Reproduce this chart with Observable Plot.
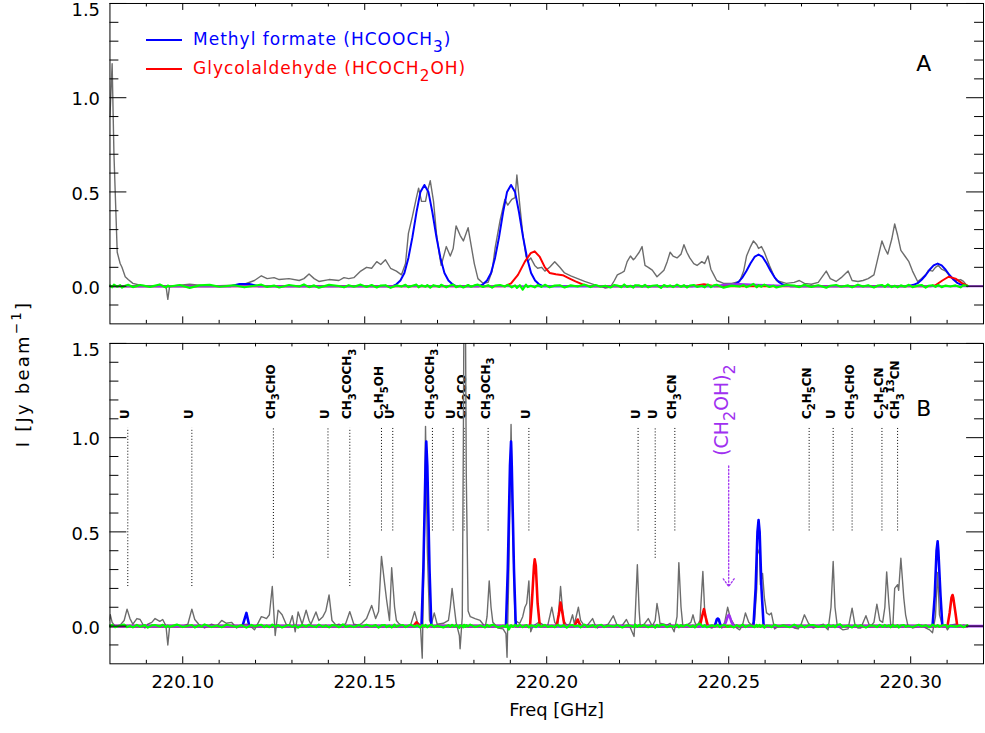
<!DOCTYPE html>
<html><head><meta charset="utf-8">
<script src="https://cdn.jsdelivr.net/npm/d3@7"></script>
<script src="https://cdn.jsdelivr.net/npm/@observablehq/plot@0.6"></script>
<style>
body{margin:0;background:#fff;overflow:hidden;}
#wrap{position:relative;width:985px;height:733px;overflow:hidden;background:#fff;font-family:"DejaVu Sans",sans-serif;}
#wrap svg{position:absolute;left:0;}
.leg-line{position:absolute;height:2px;width:36px;left:146px;}
.leg-text{position:absolute;left:193px;font-size:17px;line-height:20px;letter-spacing:1px;white-space:nowrap;}
.leg-text sub{font-size:0.9em;vertical-align:-0.45em;line-height:0;}
#ylab{position:absolute;left:22px;top:374px;transform:translate(-50%,-50%) rotate(-90deg);font-size:18px;letter-spacing:2.2px;white-space:nowrap;color:#000;}
#ylab sup{font-size:0.75em;vertical-align:0.55em;line-height:0;}
</style></head><body><div id="wrap">
<div id="ylab">I [Jy beam<sup>−1</sup>]</div>
</div>
<script>
// ---------------- axis ticks ----------------
const xMajor = [220.10, 220.15, 220.20, 220.25, 220.30];
const xMinor = [220.09, 220.11, 220.12, 220.13, 220.14, 220.16, 220.17, 220.18, 220.19, 220.21, 220.22, 220.23, 220.24, 220.26, 220.27, 220.28, 220.29, 220.31];
const yMajor = [0.0, 0.5, 1.0, 1.5];
const yMinor = [-0.1, 0.1, 0.2, 0.3, 0.4, 0.6, 0.7, 0.8, 0.9, 1.1, 1.2, 1.3, 1.4];

// ---------------- Panel A: observed spectrum (gray) ----------------
const freqA = [220.0800,220.0806,220.0811,220.0820,220.0828,220.0833,220.0842,220.0850,220.0863,220.0883,
220.0910,220.0937,220.0954,220.0959,220.0964,220.0992,220.1019,220.1046,220.1074,220.1101,
220.1142,220.1169,220.1197,220.1216,220.1232,220.1251,220.1265,220.1292,220.1320,220.1333,
220.1347,220.1361,220.1374,220.1402,220.1429,220.1443,220.1456,220.1470,220.1489,220.1505,
220.1519,220.1533,220.1544,220.1557,220.1571,220.1587,220.1601,220.1612,220.1620,220.1631,
220.1642,220.1648,220.1656,220.1667,220.1672,220.1680,220.1689,220.1697,220.1705,220.1710,
220.1724,220.1735,220.1743,220.1751,220.1762,220.1771,220.1784,220.1792,220.1801,220.1811,
220.1825,220.1839,220.1850,220.1858,220.1872,220.1885,220.1893,220.1904,220.1913,220.1918,
220.1926,220.1934,220.1943,220.1948,220.1956,220.1967,220.1975,220.1986,220.1995,220.2008,
220.2022,220.2036,220.2049,220.2066,220.2085,220.2104,220.2120,220.2134,220.2148,220.2161,
220.2175,220.2186,220.2194,220.2205,220.2213,220.2221,220.2230,220.2238,220.2243,220.2254,
220.2262,220.2270,220.2279,220.2290,220.2303,220.2314,220.2322,220.2331,220.2339,220.2347,
220.2358,220.2369,220.2377,220.2385,220.2393,220.2404,220.2413,220.2426,220.2434,220.2443,
220.2451,220.2459,220.2467,220.2486,220.2508,220.2530,220.2541,220.2549,220.2560,220.2568,
220.2577,220.2582,220.2590,220.2598,220.2612,220.2623,220.2631,220.2658,220.2680,220.2694,
220.2708,220.2727,220.2746,220.2768,220.2779,220.2795,220.2809,220.2828,220.2839,220.2855,
220.2869,220.2883,220.2899,220.2910,220.2921,220.2929,220.2937,220.2948,220.2956,220.2964,
220.2973,220.2984,220.2995,220.3005,220.3019,220.3030,220.3041,220.3049,220.3060,220.3068,
220.3076,220.3085,220.3096,220.3109,220.3123,220.3137,220.3145,220.3156];
const intA = [0.90,1.18,0.70,0.18,0.12,0.10,0.05,0.035,0.015,0.005,
0.0,0.003,0.0,-0.07,0.0,0.005,0.01,0.005,0.0,0.002,
0.005,0.01,0.03,0.055,0.04,0.045,0.035,0.04,0.03,0.04,
0.065,0.04,0.025,0.035,0.03,0.045,0.04,0.045,0.08,0.10,
0.095,0.13,0.115,0.14,0.095,0.08,0.06,0.12,0.28,0.37,
0.47,0.52,0.45,0.45,0.50,0.56,0.45,0.28,0.17,0.11,
0.21,0.16,0.20,0.32,0.27,0.24,0.31,0.22,0.12,0.04,
0.015,0.02,0.08,0.20,0.35,0.46,0.43,0.46,0.47,0.59,
0.43,0.28,0.16,0.13,0.15,0.11,0.095,0.10,0.08,0.10,
0.13,0.10,0.07,0.055,0.04,0.025,0.015,0.005,0.0,-0.01,
-0.005,0.03,0.06,0.07,0.08,0.13,0.16,0.14,0.15,0.18,
0.21,0.11,0.10,0.085,0.05,0.07,0.085,0.13,0.18,0.16,
0.15,0.17,0.22,0.18,0.15,0.12,0.11,0.13,0.12,0.16,
0.09,0.06,0.03,0.015,0.015,0.025,0.08,0.16,0.21,0.24,
0.22,0.20,0.21,0.18,0.11,0.06,0.03,0.015,0.02,0.03,
0.015,0.01,0.02,0.08,0.04,0.025,0.045,0.08,0.03,0.025,
0.03,0.04,0.06,0.15,0.24,0.20,0.17,0.25,0.33,0.27,
0.19,0.16,0.13,0.08,0.025,0.04,0.06,0.085,0.08,0.10,
0.11,0.09,0.08,0.05,0.03,0.035,0.025,0.0];
const residA = [0.004,-0.006,0.008,-0.003,0.005,-0.008,0.002,0.007,-0.005,0.006,
-0.004,0.009,-0.007,0.003,-0.002,0.006,-0.009,0.004,0.007,-0.003,
0.005,-0.006,0.002,0.008,-0.004,0.003,-0.007,0.006,-0.002,0.009,
-0.005,0.004,-0.008,0.007,0.001,-0.006,0.005,-0.003,0.008,-0.004,
0.006,-0.007,0.003,0.005,-0.009,0.004,-0.002,0.007,-0.005,0.002,
0.008,-0.006,0.004,-0.003,0.006,-0.008,0.005,0.001,-0.004,0.007,
-0.006,0.003,0.009,-0.005,0.002,-0.007,0.006,-0.003,0.004,0.008,
-0.004,0.005,-0.008,0.003,0.006,-0.002,0.007,-0.006,0.004,-0.009,
0.005,-0.018,0.008,-0.005,0.002,-0.006,0.006,-0.004,0.007,-0.006,
0.003,0.005,-0.007,0.004,-0.002,0.008,-0.005,0.006,-0.003,0.002,
-0.007,0.006,0.003,-0.005,0.009,-0.004,0.002,-0.008,0.005,0.004,
-0.003,0.007,-0.006,0.002,0.005,-0.009,0.006,-0.002,0.004,-0.005,
0.008,-0.003,0.005,-0.007,0.003,0.006,-0.004,0.002,-0.006,0.009,
-0.005,0.004,0.007,-0.008,0.003,-0.002,0.006,-0.005,0.004,0.012,
-0.006,0.005,-0.003,0.008,-0.004,0.002,-0.007,0.006,0.003,-0.005,
0.007,-0.004,0.005,-0.008,0.002,0.006,-0.003,0.004,-0.006,0.008,
-0.002,0.005,-0.007,0.003,0.006,-0.004,0.009,-0.005,0.002,-0.006,
0.004,-0.003,0.007,-0.005,0.003,0.006,-0.008,0.002,0.005,-0.004,
0.006,-0.005,0.003,-0.002,0.004,-0.006,0.005,0.002];

// Panel A model fits
const mfA_freq = [220.0800,220.1131,220.1156,220.1183,220.1208,
220.1577,220.1587,220.1598,220.1609,220.1620,220.1631,220.1642,220.1653,220.1664,220.1675,220.1686,220.1697,220.1708,220.1719,220.1730,220.1741,220.1751,
220.1814,220.1825,220.1836,220.1847,220.1858,220.1869,220.1880,220.1891,220.1902,220.1913,220.1924,220.1935,220.1946,220.1957,220.1968,220.1979,220.1990,
220.2494,220.2505,220.2516,220.2527,220.2538,220.2549,220.2560,220.2571,220.2582,220.2593,220.2604,220.2615,220.2626,220.2637,220.2648,220.2659,220.2670,
220.2986,220.2997,220.3008,220.3019,220.3030,220.3041,220.3052,220.3063,220.3074,220.3085,220.3096,220.3107,220.3118,220.3129,220.3140,220.3151,220.3156];
const mfA_int = [0,0,0.012,0.012,0,
0,0.01,0.03,0.07,0.15,0.26,0.39,0.50,0.537,0.50,0.39,0.26,0.15,0.07,0.03,0.01,0,
0,0.01,0.03,0.07,0.15,0.26,0.39,0.50,0.537,0.50,0.39,0.26,0.15,0.07,0.03,0.01,0,
0,0.003,0.009,0.023,0.047,0.082,0.122,0.155,0.168,0.155,0.122,0.082,0.047,0.023,0.009,0.003,0,
0,0.002,0.007,0.016,0.034,0.058,0.087,0.11,0.12,0.11,0.087,0.058,0.034,0.016,0.007,0.002,0];
const gaA_freq = [220.0800,220.1886,220.1902,220.1921,220.1940,220.1956,220.1967,220.1981,220.1995,220.2008,220.2025,220.2044,220.2063,220.2079,220.2104,220.2120,220.2399,220.2432,220.2462,220.3055,220.3068,220.3087,220.3104,220.3123,220.3142,220.3156];
const gaA_int = [0,0,0.015,0.06,0.13,0.175,0.185,0.155,0.10,0.07,0.063,0.058,0.04,0.025,0.005,0,0,0.01,0,0,0.005,0.03,0.05,0.04,0.015,0.003];
const egA_freq = [220.0800,220.2459,220.2486,220.2530,220.2577,220.2631,220.2680,220.3200];
const egA_int = [0,0,0.008,0.012,0.008,0.003,0,0];

// ---------------- Panel B ----------------
const freqB = [220.0798,220.0801,220.0806,220.0814,220.0828,220.0839,220.0847,220.0855,220.0863,220.0874,
220.0883,220.0896,220.0904,220.0915,220.0924,220.0937,220.0945,220.0954,220.0959,220.0964,
220.0984,220.1000,220.1014,220.1025,220.1033,220.1044,220.1052,220.1060,220.1079,220.1093,
220.1107,220.1120,220.1134,220.1148,220.1161,220.1175,220.1189,220.1197,220.1208,220.1216,
220.1224,220.1230,220.1238,220.1246,220.1254,220.1262,220.1273,220.1284,220.1292,220.1301,
220.1309,220.1317,220.1328,220.1339,220.1347,220.1352,220.1366,220.1374,220.1385,220.1393,
220.1402,220.1410,220.1421,220.1429,220.1440,220.1448,220.1459,220.1470,220.1484,220.1492,
220.1505,220.1519,220.1530,220.1538,220.1546,220.1555,220.1560,220.1568,220.1574,220.1582,
220.1587,220.1593,220.1604,220.1612,220.1626,220.1637,220.1645,220.1653,220.1658,220.1664,
220.1667,220.1672,220.1678,220.1683,220.1691,220.1699,220.1716,220.1730,220.1735,220.1740,
220.1746,220.1751,220.1760,220.1762,220.1768,220.1771,220.1773,220.1776,220.1779,220.1784,
220.1790,220.1803,220.1817,220.1831,220.1836,220.1842,220.1847,220.1852,220.1866,220.1880,
220.1888,220.1891,220.1896,220.1902,220.1907,220.1913,220.1921,220.1926,220.1934,220.1940,
220.1945,220.1951,220.1956,220.1962,220.1970,220.1978,220.1984,220.1995,220.2003,220.2014,
220.2022,220.2030,220.2038,220.2046,220.2055,220.2063,220.2071,220.2076,220.2087,220.2093,
220.2104,220.2112,220.2126,220.2134,220.2139,220.2150,220.2158,220.2169,220.2183,220.2194,
220.2208,220.2219,220.2230,220.2240,220.2243,220.2249,220.2254,220.2257,220.2268,220.2279,
220.2290,220.2298,220.2303,220.2309,220.2311,220.2322,220.2331,220.2339,220.2350,220.2358,
220.2363,220.2369,220.2374,220.2385,220.2396,220.2402,220.2407,220.2413,220.2421,220.2429,
220.2434,220.2440,220.2454,220.2462,220.2470,220.2475,220.2481,220.2489,220.2497,220.2505,
220.2514,220.2522,220.2530,220.2538,220.2546,220.2555,220.2563,220.2571,220.2577,220.2579,
220.2585,220.2587,220.2593,220.2598,220.2604,220.2612,220.2617,220.2626,220.2637,220.2650,
220.2667,220.2680,220.2691,220.2699,220.2708,220.2719,220.2732,220.2746,220.2760,220.2768,
220.2773,220.2781,220.2787,220.2792,220.2798,220.2806,220.2814,220.2828,220.2839,220.2847,
220.2855,220.2863,220.2877,220.2888,220.2899,220.2907,220.2915,220.2923,220.2929,220.2934,
220.2940,220.2945,220.2951,220.2956,220.2964,220.2967,220.2973,220.2981,220.2986,220.2992,
220.3005,220.3022,220.3030,220.3041,220.3052,220.3060,220.3068,220.3074,220.3079,220.3087,
220.3096,220.3101,220.3109,220.3123,220.3137,220.3145,220.3156];
const intB = [0.03,0.06,0.02,0.0,0.005,0.03,0.09,0.04,0.01,0.04,
0.035,-0.01,0.01,0.02,0.04,0.025,0.035,0.0,-0.10,0.0,
0.005,0.0,0.01,0.09,0.035,0.01,0.0,-0.01,0.01,0.0,
0.03,0.015,0.02,-0.01,0.005,0.01,-0.005,-0.02,0.02,0.05,
0.045,0.04,0.06,0.21,-0.05,0.085,0.06,0.01,0.0,0.055,
-0.03,0.075,0.01,0.085,0.03,0.01,0.075,0.03,0.05,0.08,
0.165,0.03,0.005,0.01,0.0,0.015,0.077,0.01,0.005,0.015,
0.04,0.11,0.04,0.077,0.37,0.22,0.14,0.03,0.31,0.10,
0.03,0.015,0.0,-0.005,0.005,0.077,0.02,0.005,-0.17,0.5,
1.06,0.4,0.03,0.01,0.07,0.01,0.015,0.03,0.1,0.2,
0.1,0.02,-0.05,-0.12,0.05,1.0,1.9,1.9,0.8,0.08,
0.05,0.04,0.03,-0.005,0.05,0.24,0.1,0.02,-0.01,-0.015,
-0.04,-0.165,0.3,1.07,0.5,0.03,0.02,0.015,0.05,0.1,
0.12,0.24,-0.03,0.0,0.01,0.02,0.015,0.0,0.005,0.1,
0.02,0.0,0.21,0.03,0.005,0.01,0.06,0.01,0.1,0.03,
0.0,0.005,0.04,0.0,-0.01,0.005,0.0,0.01,0.055,0.0,
0.005,0.035,-0.01,-0.055,0.05,0.326,0.08,0.0,0.01,0.04,
0.0,0.03,0.12,0.05,0.015,0.01,0.005,0.015,-0.03,0.05,
0.337,0.1,0.0,0.005,0.02,0.06,0.02,0.0,0.03,0.29,
0.08,0.0,-0.01,0.01,0.035,0.02,-0.01,0.02,0.1,0.04,
0.01,-0.01,-0.02,0.005,0.07,0.02,0.005,0.03,0.2,0.41,
0.38,0.22,0.28,0.15,0.07,0.06,0.07,-0.015,0.0,0.005,
0.005,-0.01,-0.015,0.01,0.06,0.015,-0.01,0.0,0.01,-0.01,
-0.02,0.1,0.343,0.1,0.005,-0.01,-0.02,-0.015,0.095,0.005,
-0.01,-0.01,0.055,-0.005,0.02,0.116,0.03,0.02,0.1,0.288,
0.12,0.01,0.0,0.2,0.22,0.19,0.36,0.15,0.06,0.005,
-0.01,0.0,0.005,-0.01,-0.02,-0.035,0.05,0.285,0.06,0.005,
0.0,-0.02,0.005,0.01,0.0,0.005,0.0];
const residB = [0.005,-0.004,0.007,-0.006,0.003,0.008,-0.005,0.002,-0.007,0.006,
-0.003,0.005,-0.008,0.004,0.006,-0.002,0.007,-0.006,0.003,-0.004,
0.008,-0.005,0.002,0.006,-0.007,0.004,-0.003,0.009,-0.005,0.003,
-0.006,0.007,0.002,-0.004,0.005,-0.008,0.006,-0.002,0.004,0.007,
-0.005,0.003,-0.006,0.008,-0.003,0.005,-0.007,0.002,0.006,-0.004,
0.004,-0.008,0.006,-0.003,0.007,0.002,-0.005,0.008,-0.004,0.003,
-0.007,0.005,0.003,-0.006,0.009,-0.004,0.002,-0.005,0.006,-0.003,
0.007,-0.002,0.005,-0.008,0.004,0.006,-0.005,0.003,-0.007,0.008,
-0.004,0.002,0.006,-0.005,0.007,-0.003,0.004,-0.008,0.005,-0.002,
0.006,-0.006,0.003,0.008,-0.005,0.002,-0.007,0.005,-0.004,0.007,
-0.003,0.006,-0.009,0.004,0.002,-0.006,0.007,-0.004,0.005,-0.002,
0.008,-0.005,0.003,-0.007,0.006,-0.003,0.004,0.007,-0.006,0.002,
-0.005,0.008,-0.018,0.005,-0.004,0.006,-0.002,0.007,-0.006,0.003,
0.005,-0.007,0.004,0.002,-0.005,0.008,-0.003,0.006,-0.004,0.002,
-0.006,0.007,-0.003,0.005,-0.008,0.004,0.006,-0.002,0.003,-0.007,
0.008,-0.004,0.005,-0.006,0.002,0.007,-0.005,0.003,-0.003,0.006,
-0.007,0.004,0.002,-0.005,0.009,-0.004,0.006,-0.002,0.005,-0.006,
0.003,-0.008,0.006,-0.003,0.004,0.007,-0.005,0.002,-0.004,0.008,
-0.006,0.005,-0.002,0.007,-0.004,0.003,-0.007,0.006,0.012,-0.003,
0.005,-0.006,0.004,-0.002,0.007,-0.005,0.003,0.006,-0.004,0.002,
-0.007,0.005,-0.003,0.008,-0.005,0.004,0.002,-0.006,0.007,-0.003,
0.006,-0.004,0.005,-0.008,0.003,0.002,-0.005,0.007,-0.002,0.004,
-0.006,0.008,-0.003,0.005,-0.007,0.004,0.006,-0.004,0.003,-0.005,
0.007,-0.002,0.004,-0.006,0.005,0.010,-0.004,0.003,-0.007,0.006,
-0.003,0.005,-0.008,0.004,0.002,-0.005,0.007,-0.004,0.006,-0.002,
0.004,-0.006,0.007,-0.003,0.005,-0.008,0.003,0.006,-0.004,0.002,
-0.005,0.007,-0.002,0.004,-0.006,0.008,-0.003,0.005,-0.004,0.003,
0.006,-0.005,0.002,-0.003,0.004,-0.006,0.005,0.002,-0.003,0.004];

const mfB_freq = [220.0800,220.1164,220.1175,220.1183,220.1656,220.1661,220.1667,220.1669,220.1672,220.1678,220.1683,220.1888,220.1893,220.1899,220.1902,220.1904,220.1910,220.1915,220.2462,220.2467,220.2470,220.2473,220.2478,220.2568,220.2574,220.2579,220.2582,220.2585,220.2590,220.2596,220.3060,220.3066,220.3071,220.3074,220.3076,220.3082,220.3087,220.3156];
const mfB_int = [0,0,0.07,0,0,0.3,0.85,0.98,0.85,0.3,0,0,0.3,0.85,0.98,0.85,0.3,0,0,0.035,0.04,0.035,0,0,0.2,0.5,0.563,0.5,0.2,0,0,0.16,0.4,0.45,0.4,0.16,0,0];
const gaB_freq = [220.0800,220.1634,220.1642,220.1650,220.1954,220.1959,220.1965,220.1967,220.1970,220.1975,220.1981,220.2027,220.2033,220.2038,220.2044,220.2049,220.2076,220.2085,220.2093,220.2421,220.2426,220.2432,220.2437,220.2443,220.3101,220.3107,220.3112,220.3115,220.3117,220.3123,220.3128,220.3156];
const gaB_int = [0,0,0.02,0,0,0.12,0.32,0.354,0.32,0.12,0,0,0.06,0.125,0.06,0,0,0.035,0,0,0.045,0.09,0.045,0,0,0.07,0.15,0.165,0.15,0.07,0,0];
const egB_freq = [220.0800,220.2486,220.2492,220.2497,220.2500,220.2503,220.2508,220.2514,220.3200];
const egB_int = [0,0,0.02,0.05,0.06,0.05,0.02,0,0];

// line identifications
const idNames = ["U","U","CH₃CHO","U","CH₃COCH₃","C₂H₅OH","U","CH₃COCH₃","U","CH₂CO","CH₃OCH₃","U","U","U","CH₃CN","C₂H₅CN","U","CH₃CHO","C₂H₅CN","CH₃¹³CN"];
const idFreq = [220.0849,220.1025,220.1249,220.1399,220.1459,220.1546,220.1577,220.1686,220.1743,220.1773,220.1839,220.1951,220.2251,220.2298,220.2352,220.2721,220.2787,220.2839,220.2921,220.2964];
const idLow = [0.21,0.21,0.36,0.36,0.21,0.505,0.505,0.505,0.505,0.505,0.505,0.505,0.505,0.36,0.505,0.505,0.505,0.505,0.505,0.505];
const idHigh = 1.05;
const egName = ["(CH₂OH)₂"];
const egFreq = [220.25];
const egArrow = [0.85, 0.21];

// ---------------- drawing ----------------
const W = 990, ML = 110, MR = 2, PH = 322;
const PW = W - ML - MR;
const GRAY = "#6c6c6c", BLUE = "#0000ff", RED = "#ff0000", GREEN = "#00ff00", PURPLE = "#a030f0";
const zip = (f, v) => d3.range(Math.min(f.length, v.length)).map(i => ({f: f[i], v: v[i]}));

function frameMarks() {
  return [
    Plot.tickY(yMinor, {y: d => d, insetRight: PW - 9, stroke: "#000"}),
    Plot.tickY(yMajor, {y: d => d, insetRight: PW - 17, stroke: "#000"}),
    Plot.tickY(yMinor, {y: d => d, insetLeft: PW - 9, stroke: "#000"}),
    Plot.tickY(yMajor, {y: d => d, insetLeft: PW - 17, stroke: "#000"}),
    Plot.tickX(xMinor, {x: d => d, insetBottom: PH - 3.5, stroke: "#000"}),
    Plot.tickX(xMajor, {x: d => d, insetBottom: PH - 7, stroke: "#000"}),
    Plot.tickX(xMinor, {x: d => d, insetTop: PH - 3.5, stroke: "#000"}),
    Plot.tickX(xMajor, {x: d => d, insetTop: PH - 7, stroke: "#000"}),
    Plot.frame({stroke: "#000", strokeWidth: 1}),
    Plot.text(yMajor.filter(d => d < 1.4), {y: d => d, text: d => d.toFixed(1), frameAnchor: "left", textAnchor: "end", dx: -10, dy: 2, fontSize: 18, fill: "#000"}),
    Plot.text(yMajor.filter(d => d > 1.4), {y: d => d, text: d => d.toFixed(1), frameAnchor: "left", textAnchor: "end", dx: -10, dy: 7, fontSize: 18, fill: "#000"})
  ];
}
function spectrumMarks(fr, it, rs, mf, ga, eg, wModel) {
  return [
    Plot.line(zip(fr, it), {x: "f", y: "v", stroke: GRAY, strokeWidth: 1.4, clip: true}),
    Plot.line(zip(mf[0], mf[1]), {x: "f", y: "v", stroke: BLUE, strokeWidth: wModel, clip: true}),
    Plot.line(zip(ga[0], ga[1]), {x: "f", y: "v", stroke: RED, strokeWidth: wModel, clip: true}),
    Plot.line(zip(eg[0], eg[1]), {x: "f", y: "v", stroke: PURPLE, strokeWidth: wModel, clip: true}),
    Plot.line(zip(fr, rs), {x: "f", y: "v", stroke: GREEN, strokeWidth: 2.2, clip: true})
  ];
}

// turn Unicode sub/superscript digits into shifted tspans (real text kept)
const SUB = "₀₁₂₃₄₅₆₇₈₉", SUP = "⁰¹²³⁴⁵⁶⁷⁸⁹";
function richText(svg) {
  svg.querySelectorAll("text").forEach(t => {
    const s = t.textContent;
    if (!/[₀-₉⁰¹²³⁴-⁹]/.test(s)) return;
    const fs = parseFloat(t.getAttribute("font-size") || t.parentNode.getAttribute("font-size") || 12);
    const runs = [];
    for (const ch of s) {
      let type = 0, c = ch;
      if (SUB.includes(ch)) { type = 1; c = String(SUB.indexOf(ch)); }
      else if (SUP.includes(ch)) { type = -1; c = String(SUP.indexOf(ch)); }
      if (runs.length && runs[runs.length - 1].type === type) runs[runs.length - 1].txt += c;
      else runs.push({type, txt: c});
    }
    t.textContent = "";
    let cur = 0;
    runs.forEach(r => {
      const ts = document.createElementNS("http://www.w3.org/2000/svg", "tspan");
      const target = r.type === 1 ? 0.38 * fs : r.type === -1 ? -0.42 * fs : 0;
      ts.setAttribute("dy", (target - cur).toFixed(2));
      cur = target;
      if (r.type !== 0) ts.setAttribute("font-size", (0.85 * fs).toFixed(2));
      ts.textContent = r.txt;
      t.appendChild(ts);
    });
  });
}

const common = {
  width: W, marginLeft: ML, marginRight: MR,
  x: {domain: [220.08, 220.32], axis: null},
  y: {domain: [-0.2, 1.5], axis: null},
  style: {fontFamily: "DejaVu Sans", background: "transparent", overflow: "visible"}
};

const plotA = Plot.plot({
  ...common, height: 330, marginTop: 3, marginBottom: 5,
  marks: [
    ...spectrumMarks(freqA, intA, residA, [mfA_freq, mfA_int], [gaA_freq, gaA_int], [egA_freq, egA_int], 2),
    ...frameMarks(),
    Plot.text(["A"], {frameAnchor: "top-right", textAnchor: "middle", dx: -60, dy: 52, fontSize: 22, fill: "#000"})
  ]
});
plotA.style.top = "0px";

const ids = idNames.map((n, i) => ({name: n, f: idFreq[i], low: idLow[i]}));
const eg = egName.map((n, i) => ({name: n, f: egFreq[i], top: egArrow[0], bot: egArrow[1]}));

const plotB = Plot.plot({
  ...common, height: 403, marginTop: 13, marginBottom: 68,
  marks: [
    Plot.ruleX(ids, {x: "f", y1: "low", y2: () => idHigh, stroke: "#000", strokeWidth: 1, strokeDasharray: "1,2"}),
    Plot.text(ids, {x: "f", text: "name", frameAnchor: "top", dy: 76, dx: 1.5, rotate: -90, textAnchor: "start", lineAnchor: "bottom", fontSize: 12, fontWeight: "bold", fill: "#000", style: {letterSpacing: "0.9px"}}),
    ...spectrumMarks(freqB, intB, residB, [mfB_freq, mfB_int], [gaB_freq, gaB_int], [egB_freq, egB_int], 2.6),
    Plot.arrow(eg, {x1: "f", x2: "f", y1: "top", y2: "bot", stroke: PURPLE, strokeWidth: 1.3, strokeDasharray: "1.5,2", headLength: 11, headAngle: 70}),
    Plot.text(eg, {x: "f", text: "name", frameAnchor: "top", dy: 113, dx: -1, rotate: -90, textAnchor: "start", lineAnchor: "bottom", fontSize: 19, fill: PURPLE}),
    ...frameMarks(),
    Plot.text(xMajor, {x: d => d, text: d => d.toFixed(2), frameAnchor: "bottom", lineAnchor: "top", dy: 12, fontSize: 18, fill: "#000"}),
    Plot.text(["Freq [GHz]"], {frameAnchor: "bottom", textAnchor: "middle", dx: 10, dy: 52, fontSize: 18, fill: "#000", style: {letterSpacing: "1.2px"}}),
    Plot.text(["B"], {frameAnchor: "top-right", textAnchor: "middle", dx: -60, dy: 57, fontSize: 22, fill: "#000"})
  ]
});
plotB.style.top = "330px";
richText(plotB);

const wrap = document.getElementById("wrap");
wrap.appendChild(plotA);
wrap.appendChild(plotB);

// legend (panel A)
const legend = [
  {color: BLUE, top: 39, html: "Methyl formate (HCOOCH<sub>3</sub>)"},
  {color: RED, top: 68, html: "Glycolaldehyde (HCOCH<sub>2</sub>OH)"}
];
legend.forEach(l => {
  const ln = document.createElement("div");
  ln.className = "leg-line"; ln.style.top = l.top + "px"; ln.style.background = l.color;
  const tx = document.createElement("div");
  tx.className = "leg-text"; tx.style.top = (l.top - 10) + "px"; tx.style.color = l.color;
  tx.innerHTML = l.html;
  wrap.appendChild(ln); wrap.appendChild(tx);
});
</script></body></html>
